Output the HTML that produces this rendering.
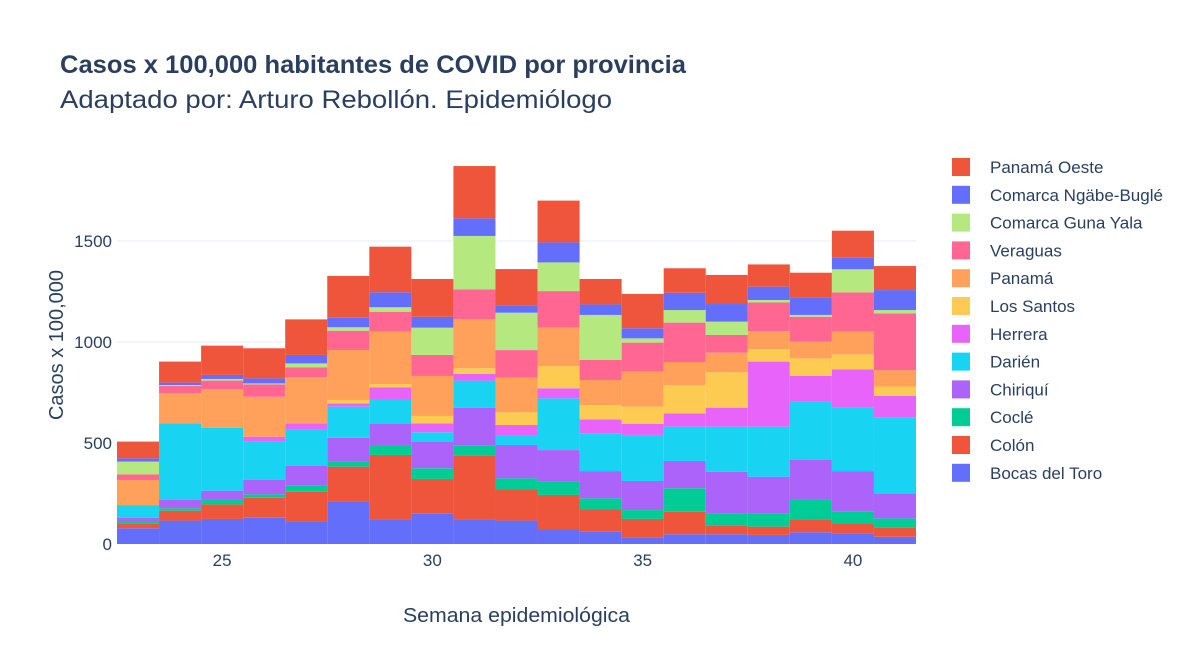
<!DOCTYPE html>
<html><head><meta charset="utf-8"><style>
body{margin:0;background:#fff;}
svg{display:block;font-family:"Liberation Sans","DejaVu Sans",sans-serif;}
</style></head><body>
<svg id="chart" width="1200" height="662">
<text x="60" y="73" font-size="25" font-weight="bold" fill="#2a3f5f" textLength="626" lengthAdjust="spacingAndGlyphs">Casos x 100,000 habitantes de COVID por provincia</text>
<text x="60" y="108" font-size="25" fill="#2a3f5f" textLength="552" lengthAdjust="spacingAndGlyphs">Adaptado por: Arturo Rebollón. Epidemiólogo</text>
<g id="grid"></g><g id="bars"></g><g id="yticks"></g><g id="xticks"></g><g id="legend"></g>
<text x="403" y="622" font-size="20" fill="#2a3f5f" textLength="227" lengthAdjust="spacingAndGlyphs">Semana epidemiológica</text>
<text transform="translate(63,345) rotate(-90)" font-size="20" fill="#2a3f5f" text-anchor="middle">Casos x 100,000</text>
</svg>
<script>
const weeks=[23,24,25,26,27,28,29,30,31,32,33,34,35,36,37,38,39,40,41];
const seriesNames=["Bocas del Toro","Colón","Coclé","Chiriquí","Darién","Herrera","Los Santos","Panamá","Veraguas","Comarca Guna Yala","Comarca Ngäbe-Buglé","Panamá Oeste"];
const seriesColors=["#636efa","#EF553B","#00cc96","#ab63fa","#19d3f3","#e763fa","#FECB52","#FFA15A","#FF6692","#B6E880","#636efa","#EF553B"];
const bocas=[78,116,124,130,111,210,119,152,119,116,74,61,33,48,48,45,58,50,36];
const colon=[24,49,72,99,148,173,322,170,317,156,169,112,91,112,43,41,61,49,45];
const cocle=[7,12,22,17,30,25,49,53,51,53,66,53,44,116,58,63,99,61,46];
const chiriqui=[20,41,46,71,99,118,104,132,188,165,156,135,144,135,209,184,198,201,124];
const darien=[61,379,312,190,181,154,119,46,134,45,256,187,228,170,223,248,289,314,374];
const herrera=[3,0,0,24,28,16,63,44,33,54,50,69,54,66,94,322,127,190,109];
const losSantos=[0,0,0,0,0,17,16,37,28,63,110,71,86,140,175,62,87,74,45];
const panama=[124,149,191,198,228,247,259,198,242,171,190,124,173,114,97,89,83,112,82];
const veraguas=[28,36,42,61,50,96,99,104,149,137,181,99,144,195,88,142,123,195,281];
const gunaYala=[63,5,8,5,19,17,22,135,264,185,142,223,21,62,66,12,9,114,16];
const ngabe=[16,12,20,25,42,47,74,54,87,35,99,52,50,86,87,66,87,57,99];
const panamaOeste=[83,104,145,149,176,207,226,187,259,181,207,126,170,121,144,110,122,134,119];
const allSeries=[bocas,colon,cocle,chiriqui,darien,herrera,losSantos,panama,veraguas,gunaYala,ngabe,panamaOeste];
const yTicks=[0,500,1000,1500];
const xTicks=[25,30,35,40];
const NS="http://www.w3.org/2000/svg";
const X0=117,X1=916,Y0=544,Y1=160;
const xMin=22.5,xMax=41.5,yMax=1901;
const bw=(X1-X0)/(xMax-xMin);
function xs(v){return X0+(v-xMin)*bw;}
function ys(v){return Y0-(v/yMax)*(Y0-Y1);}
function mk(tag,attrs,parent){const e=document.createElementNS(NS,tag);for(const k in attrs)e.setAttribute(k,attrs[k]);parent.appendChild(e);return e;}
const grid=document.getElementById('grid'),bars=document.getElementById('bars'),yt=document.getElementById('yticks'),xt=document.getElementById('xticks'),lg=document.getElementById('legend');
yTicks.forEach(t=>{
  if(t>0){const l=mk('line',{x1:X0,x2:X1,y1:ys(t),y2:ys(t),stroke:'#e5ecf6','stroke-width':1},grid);
  
  }
  const tx=mk('text',{x:112,y:ys(t)+6,'font-size':17,fill:'#2a3f5f','text-anchor':'end'},yt);
  tx.textContent=t;
  
  
});
xTicks.forEach(t=>{
  const tx=mk('text',{x:xs(t),y:566,'font-size':17,fill:'#2a3f5f','text-anchor':'middle'},xt);
  tx.textContent=t;
  
  
});
weeks.forEach((w,i)=>{
  let cum=0;
  allSeries.forEach((s,j)=>{
    const v=s[i];const yTop=ys(cum+v),yBot=ys(cum);cum+=v;
    if(v<=0)return;
    const r=mk('rect',{x:xs(w-0.5),y:yTop,width:bw,height:yBot-yTop,fill:seriesColors[j]},bars);
    
    
  });
});
for(let k=seriesNames.length-1;k>=0;k--){
  const idx=seriesNames.length-1-k;const y=167+idx*27.8;
  const g=mk('g',{},lg);
  
  
  mk('rect',{x:952,y:y-9,width:18,height:18,fill:seriesColors[k]},g);
  const t=mk('text',{x:990,y:y+6,'font-size':17,fill:'#2a3f5f'},g);
  t.textContent=seriesNames[k];
}
</script>
</body></html>
